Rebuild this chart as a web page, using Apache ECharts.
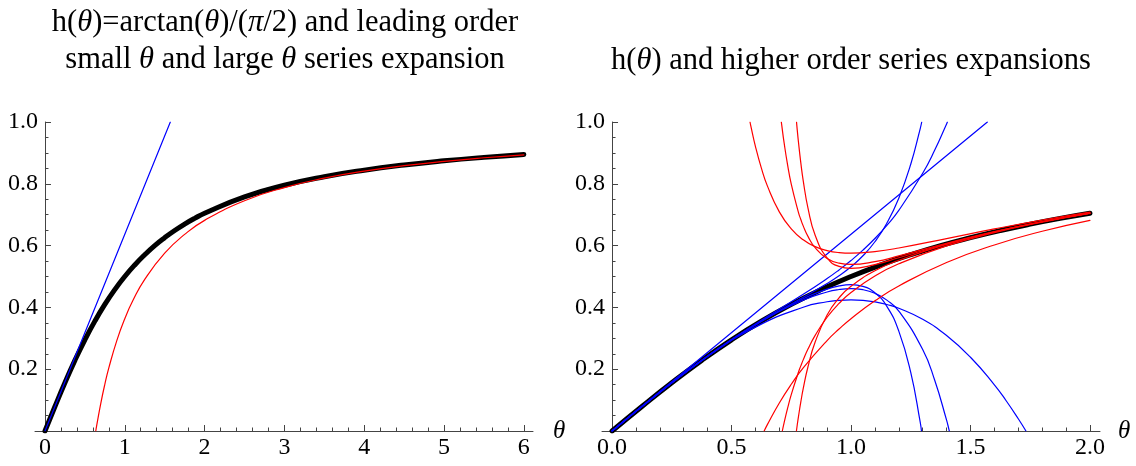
<!DOCTYPE html>
<html><head><meta charset="utf-8">
<script src="https://cdn.jsdelivr.net/npm/echarts@6/dist/echarts.min.js"></script>
<style>html,body{margin:0;padding:0;background:#fff}#c{width:1136px;height:466px}</style>
</head><body><div id="c"></div>
<script>
// ---------- tick labels ----------
const leftXTicks = [0, 1, 2, 3, 4, 5, 6];
const rightXTicks = [0, 0.5, 1, 1.5, 2];
const yTicks = [0.2, 0.4, 0.6, 0.8, 1.0];

// ---------- h(theta) = arctan(theta)/(pi/2) ----------
const hTheta = [0, 0.125, 0.25, 0.375, 0.5, 0.625, 0.75, 0.875, 1, 1.125, 1.25, 1.375, 1.5, 1.625, 1.75, 1.875, 2, 2.5, 3, 3.5, 4, 4.5, 5, 5.5, 6];
const hVals = [0, 0.079167, 0.155958, 0.228400, 0.295167, 0.355613, 0.409666, 0.457620, 0.5, 0.537400, 0.570446, 0.600020, 0.625666, 0.648805, 0.669501, 0.688083, 0.704833, 0.757762, 0.795168, 0.822829, 0.844042, 0.860791, 0.874334, 0.885502, 0.894863];

// ---------- left: leading order expansions ----------
const smallTheta = [0, 1.5708];
const smallVals = [0, 1];
const largeTheta = [0.6366, 0.65, 0.7, 0.75, 0.8, 0.9, 1, 1.1, 1.25, 1.5, 1.75, 2, 2.5, 3, 3.5, 4, 4.5, 5, 5.5, 6];
const largeVals = [0, 0.020585, 0.090543, 0.151174, 0.204225, 0.292645, 0.363380, 0.421255, 0.490704, 0.575587, 0.636217, 0.681690, 0.745352, 0.787793, 0.818109, 0.840845, 0.858529, 0.872676, 0.884251, 0.893897];

// ---------- right: small theta expansions (blue) ----------
const b3Theta = [0, 0.2, 0.4, 0.6, 0.8, 0.9, 0.95, 1, 1.05, 1.1, 1.15, 1.2, 1.3, 1.4, 1.5, 1.6, 1.65, 1.7, 1.7321];
const b3Vals = [0, 0.125626, 0.241067, 0.336135, 0.400647, 0.418259, 0.422847, 0.424413, 0.422794, 0.417835, 0.409372, 0.397251, 0.361386, 0.308973, 0.238732, 0.149394, 0.097164, 0.039683, 0];
const b5Theta = [0, 0.2, 0.4, 0.6, 0.8, 0.9, 0.95, 1, 1.05, 1.1, 1.15, 1.2, 1.3, 1.35, 1.4, 1.4034];
const b5Vals = [0, 0.125666, 0.242371, 0.346037, 0.442367, 0.493443, 0.521368, 0.551737, 0.585298, 0.622891, 0.665467, 0.714074, 0.834133, 0.908254, 0.993752, 1];
const b7Theta = [0, 0.2, 0.4, 0.6, 0.8, 0.9, 0.95, 1, 1.05, 1.1, 1.15, 1.2, 1.3, 1.35, 1.4, 1.41, 1.4115];
const b7Vals = [0, 0.125665, 0.242222, 0.343491, 0.423295, 0.449944, 0.457858, 0.460790, 0.457327, 0.445664, 0.423549, 0.388199, 0.263462, 0.165032, 0.035061, 0.004695, 0];
const b9Theta = [0, 0.2, 0.4, 0.6, 0.8, 0.9, 0.95, 1, 1.05, 1.1, 1.15, 1.2, 1.25, 1.29, 1.296];
const b9Vals = [0, 0.125665, 0.242241, 0.344204, 0.432789, 0.477348, 0.502439, 0.531526, 0.567063, 0.612455, 0.672389, 0.753178, 0.863229, 0.979644, 1];
const b11Theta = [0, 0.2, 0.4, 0.6, 0.8, 0.9, 0.95, 1, 1.05, 1.1, 1.15, 1.2, 1.25, 1.29, 1.2948];
const b11Vals = [0, 0.125665, 0.242239, 0.343994, 0.427817, 0.459187, 0.469520, 0.473651, 0.468076, 0.447332, 0.403133, 0.323166, 0.189479, 0.026912, 0];

// ---------- right: large theta expansions (red) ----------
const r1Theta = [0.6366, 0.65, 0.7, 0.75, 0.8, 0.9, 0.95, 1, 1.1, 1.2, 1.4, 1.6, 1.8, 2];
const r1Vals = [0, 0.020585, 0.090543, 0.151174, 0.204225, 0.292645, 0.329886, 0.363380, 0.421255, 0.469483, 0.545271, 0.602113, 0.646322, 0.681690];
const r3Theta = [0.5774, 0.58, 0.6, 0.625, 0.65, 0.7, 0.75, 0.8, 0.85, 0.9, 0.95, 1, 1.1, 1.2, 1.4, 1.6, 1.8, 2];
const r3Vals = [1, 0.989994, 0.921404, 0.850606, 0.793298, 0.709223, 0.654185, 0.618690, 0.596576, 0.583739, 0.577380, 0.575587, 0.580687, 0.592282, 0.622608, 0.653920, 0.682714, 0.708217];
const r5Theta = [0.7126, 0.72, 0.735, 0.75, 0.78, 0.79, 0.8, 0.82, 0.85, 0.9, 0.95, 1, 1.1, 1.2, 1.4, 1.6, 1.8, 2];
const r5Vals = [0, 0.026314, 0.074718, 0.117636, 0.189997, 0.210776, 0.230134, 0.265068, 0.309624, 0.368112, 0.412826, 0.448263, 0.501630, 0.541114, 0.598935, 0.641778, 0.675976, 0.704238];
const r7Theta = [0.7084, 0.71, 0.72, 0.735, 0.75, 0.78, 0.79, 0.8, 0.82, 0.85, 0.9, 0.95, 1, 1.1, 1.2, 1.4, 1.6, 1.8, 2];
const r7Vals = [1, 0.990497, 0.932994, 0.859538, 0.798963, 0.707747, 0.684352, 0.663792, 0.629906, 0.593313, 0.558261, 0.543065, 0.539210, 0.548300, 0.566495, 0.607562, 0.645166, 0.677461, 0.704949];
const r9Theta = [0.7716, 0.775, 0.78, 0.79, 0.8, 0.82, 0.85, 0.9, 0.95, 1, 1.1, 1.2, 1.4, 1.6, 1.8, 2];
const r9Vals = [0, 0.019297, 0.045848, 0.094158, 0.136771, 0.207902, 0.287919, 0.375685, 0.430836, 0.468474, 0.518301, 0.552786, 0.604139, 0.644137, 0.677105, 0.704811];
const r11Theta = [0.772, 0.775, 0.78, 0.79, 0.8, 0.82, 0.85, 0.9, 0.95, 1, 1.1, 1.2, 1.4, 1.6, 1.8, 2];
const r11Vals = [1, 0.974653, 0.935980, 0.867889, 0.810520, 0.721395, 0.633759, 0.560105, 0.532584, 0.526349, 0.538586, 0.560575, 0.605568, 0.644466, 0.677195, 0.704839];

// ---------- build ----------
const FONT = "'Liberation Serif', 'Times New Roman', serif";
const AXIS = '#444';
const BLUE = '#0000ff', RED = '#ff0000';
const pts = (xs, ys) => xs.map((x, i) => [x, ys[i]]);

function minorList(lo, hi, step, majorStep) {
  const out = [];
  const n = Math.round((hi - lo) / step);
  for (let i = 0; i <= n; i++) {
    const v = +(lo + i * step).toFixed(4);
    const r = v / majorStep;
    if (Math.abs(r - Math.round(r)) > 1e-6) out.push(v);
  }
  return out;
}

function xAxes(grid, min, max, majors, minors, fmt, nameGap) {
  return [{
    type: 'value', gridIndex: grid, min: min, max: max, position: 'bottom',
    axisLine: { show: true, onZero: false, lineStyle: { color: AXIS, width: 1 } },
    axisTick: { show: true, inside: true, length: 6, customValues: majors, lineStyle: { color: AXIS } },
    axisLabel: { show: true, customValues: majors, formatter: fmt, fontFamily: FONT, fontSize: 24, color: '#000', margin: 5 },
    splitLine: { show: false },
    name: 'θ', nameLocation: 'end', nameGap: nameGap,
    nameTextStyle: { fontFamily: FONT, fontStyle: 'italic', fontSize: 25, color: '#000' }
  }, {
    type: 'value', gridIndex: grid, min: min, max: max, position: 'bottom',
    axisLine: { show: false, onZero: false },
    axisTick: { show: true, inside: true, length: 3.5, customValues: minors, lineStyle: { color: AXIS } },
    axisLabel: { show: false },
    splitLine: { show: false }
  }];
}

function yAxis(grid) {
  return {
    type: 'value', gridIndex: grid, min: 0, max: 1, interval: 0.2,
    axisLine: { show: true, onZero: true, lineStyle: { color: AXIS, width: 1 } },
    axisTick: { show: true, inside: true, length: 6, lineStyle: { color: AXIS } },
    minorTick: { show: true, splitNumber: 4, length: 3.5, lineStyle: { color: AXIS } },
    axisLabel: { fontFamily: FONT, fontSize: 24, color: '#000', margin: -3,
      formatter: v => (Math.abs(v) < 1e-9 ? '' : v.toFixed(1)) },
    splitLine: { show: false }, minorSplitLine: { show: false }
  };
}

function line(xi, yi, data, color, width, z) {
  return { type: 'line', xAxisIndex: xi, yAxisIndex: yi, data: data, symbol: 'none', showSymbol: false,
    smooth: true, clip: true, silent: true, animation: false, z: z,
    lineStyle: { color: color, width: width, cap: 'round', join: 'round' } };
}

const rightH = pts(hTheta, hVals).filter(p => p[0] <= 2);
const titleStyle = { fontFamily: FONT, fontWeight: 'normal', fontSize: 30.5, color: '#000', lineHeight: 37,
  rich: { i: { fontFamily: FONT, fontStyle: 'italic', fontSize: 30.5, color: '#000', lineHeight: 37 } } };

const option = {
  animation: false,
  backgroundColor: '#fff',
  textStyle: { fontFamily: FONT },
  title: [{
    text: 'h({i|θ})=arctan({i|θ})/({i|π}/2) and leading order\nsmall {i|θ} and large {i|θ} series expansion',
    left: 280, top: -1, textAlign: 'center', textStyle: titleStyle
  }, {
    text: 'h({i|θ}) and higher order series expansions',
    left: 846, top: 37, textAlign: 'center', textStyle: titleStyle
  }],
  grid: [
    { left: 35, top: 122, width: 498, height: 309, containLabel: false, outerBoundsMode: 'none' },
    { left: 602, top: 122, width: 498, height: 309, containLabel: false, outerBoundsMode: 'none' }
  ],
  xAxis: [].concat(
    xAxes(0, -0.125, 6.115, leftXTicks, minorList(0, 6, 0.2, 1), v => String(Math.round(v)), 20),
    xAxes(1, -0.042, 2.042, rightXTicks, minorList(0, 2, 0.1, 0.5), v => v.toFixed(1), 18)
  ),
  yAxis: [yAxis(0), yAxis(1)],
  series: [
    line(0, 0, pts(hTheta, hVals), '#000', 5, 2),
    line(0, 0, pts(smallTheta, smallVals), BLUE, 1.2, 3),
    line(0, 0, pts(largeTheta, largeVals), RED, 1.2, 3),

    line(2, 1, rightH, '#000', 5, 2),
    line(2, 1, pts(smallTheta, smallVals), BLUE, 1.2, 3),
    line(2, 1, pts(b3Theta, b3Vals), BLUE, 1.2, 3),
    line(2, 1, pts(b5Theta, b5Vals), BLUE, 1.2, 3),
    line(2, 1, pts(b7Theta, b7Vals), BLUE, 1.2, 3),
    line(2, 1, pts(b9Theta, b9Vals), BLUE, 1.2, 3),
    line(2, 1, pts(b11Theta, b11Vals), BLUE, 1.2, 3),
    line(2, 1, pts(r1Theta, r1Vals), RED, 1.2, 3),
    line(2, 1, pts(r3Theta, r3Vals), RED, 1.2, 3),
    line(2, 1, pts(r5Theta, r5Vals), RED, 1.2, 3),
    line(2, 1, pts(r7Theta, r7Vals), RED, 1.2, 3),
    line(2, 1, pts(r9Theta, r9Vals), RED, 1.2, 3),
    line(2, 1, pts(r11Theta, r11Vals), RED, 1.2, 3)
  ]
};

const chart = echarts.init(document.getElementById('c'), null, { renderer: 'canvas' });
chart.setOption(option);
</script>
</body></html>
